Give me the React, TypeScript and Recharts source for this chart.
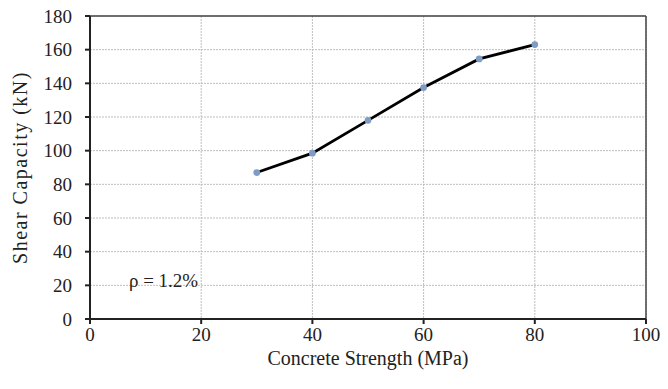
import React from 'react'
import {
  LineChart,
  Line,
  XAxis,
  YAxis,
  CartesianGrid,
  ReferenceLine,
  ReferenceDot,
} from 'recharts'

const strength = [30, 40, 50, 60, 70, 80]
const capacity = [87, 98.5, 118, 137.5, 154.5, 163]
const xTicks = [0, 20, 40, 60, 80, 100]
const yTicks = [0, 20, 40, 60, 80, 100, 120, 140, 160, 180]

const data = strength.map((s, i) => ({ strength: s, capacity: capacity[i] }))

const font = '"Liberation Serif", "Times New Roman", serif'
const tickStyle = { fill: '#222', fontSize: 19, fontFamily: font, style: { fontFamily: font } }

export default function App() {
  return (
    <div
      style={{ position: 'absolute', left: 0, top: 0, background: '#fff', fontFamily: font }}
    >
      <LineChart
        width={668}
        height={389}
        data={data}
        margin={{ top: 16, right: 22, bottom: 0, left: 0 }}
        style={{ fontFamily: font }}
      >
        <CartesianGrid stroke="#bdbdbd" strokeDasharray="2 1" />
        <XAxis
          type="number"
          dataKey="strength"
          domain={[0, 100]}
          ticks={xTicks}
          height={70}
          tickSize={5}
          tickMargin={4}
          stroke="#222"
          strokeWidth={2}
          tick={tickStyle}
          label={{
            value: 'Concrete Strength (MPa)',
            position: 'insideBottom',
            offset: 24,
            fill: '#222',
            fontSize: 20,
            fontFamily: font,
          }}
        />
        <YAxis
          type="number"
          domain={[0, 180]}
          ticks={yTicks}
          width={90}
          tickSize={5}
          tickMargin={13}
          stroke="#222"
          strokeWidth={2}
          tick={tickStyle}
          label={{
            value: 'Shear Capacity (kN)',
            angle: -90,
            position: 'insideLeft',
            offset: 20,
            style: { textAnchor: 'middle', letterSpacing: '1.5px', fontFamily: font },
            fill: '#222',
            fontSize: 20,
          }}
        />
        <ReferenceLine y={180} stroke="#444" strokeWidth={1.5} />
        <ReferenceLine x={100} stroke="#444" strokeWidth={1.5} />
        <ReferenceDot
          x={7}
          y={23}
          r={0}
          stroke="none"
          label={{
            value: 'ρ = 1.2%',
            position: 'right',
            offset: 0,
            fill: '#222',
            fontSize: 19,
            style: { fontFamily: font },
          }}
        />
        <Line
          type="linear"
          dataKey="capacity"
          stroke="#000"
          strokeWidth={2.8}
          dot={{ r: 2, fill: '#7f9cc4', stroke: '#7f9cc4' }}
          isAnimationActive={false}
        />
      </LineChart>
    </div>
  )
}
